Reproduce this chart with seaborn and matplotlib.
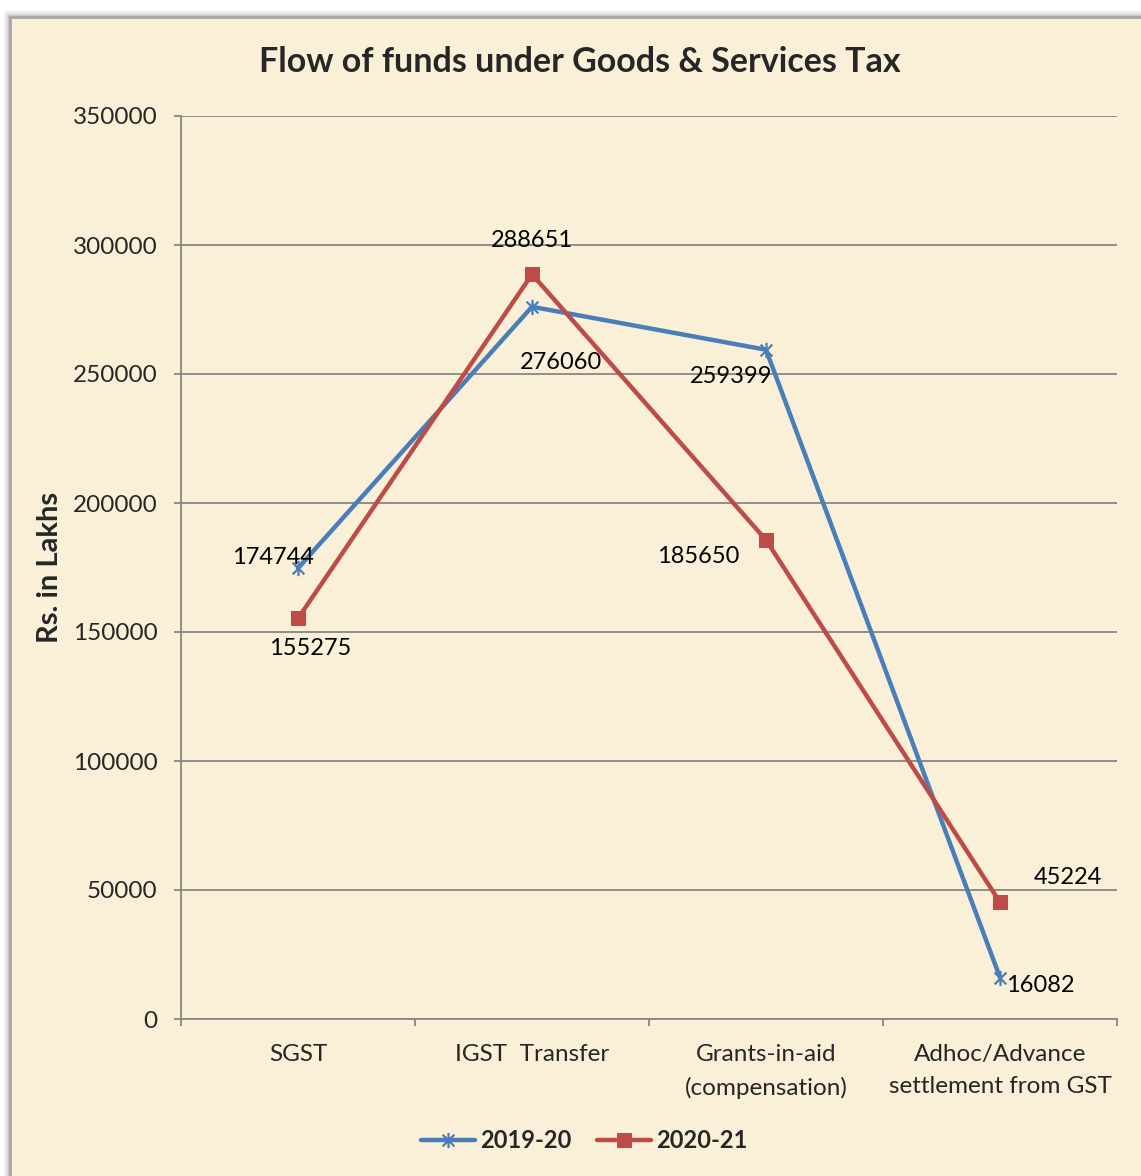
import numpy as np
import pandas as pd
import matplotlib.pyplot as plt
import matplotlib.patches as mpatches
from matplotlib.path import Path
import seaborn as sns

# datos del grafico
categorias = ['SGST', 'IGST  Transfer', 'Grants-in-aid\n(compensation)', 'Adhoc/Advance\nsettlement from GST']
anios = ['2019-20', '2020-21']
valores_2019 = [174744, 276060, 259399, 16082]
valores_2020 = [155275, 288651, 185650, 45224]
ticks_y = [0, 50000, 100000, 150000, 200000, 250000, 300000, 350000]

# desplazamiento de las etiquetas (en puntos)
offsets_2019 = [(-18, 8), (21, -40), (-25, -19), (29, -6)]
offsets_2020 = [(9, -22), (0, 24), (-49, -12), (49, 18)]

df = pd.DataFrame({
    'pos': list(range(len(categorias))) * 2,
    'valor': valores_2019 + valores_2020,
    'anio': [anios[0]] * 4 + [anios[1]] * 4,
})

sns.set_style('white')
plt.rcParams['font.family'] = ['Lato', 'DejaVu Sans']

azul = '#4A7EBB'
rojo = '#BE4B48'
gris = '#868686'
fondo = '#FAF0D8'
tam = 17.5

# marcador estrella estilo Excel (X con linea vertical)
estrella = Path([(-1, -1), (1, 1), (-1, 1), (1, -1), (0, -1.3), (0, 1.3)],
                [Path.MOVETO, Path.LINETO, Path.MOVETO, Path.LINETO, Path.MOVETO, Path.LINETO])

fig = plt.figure(figsize=(11.41, 11.76), dpi=100)
fig.patch.set_facecolor('white')

# marco tipo pergamino con sombra
for i, a in enumerate([0.06, 0.08, 0.10]):
    d = (3 - i) * 2 / 1141
    fig.patches.append(mpatches.Rectangle((10 / 1141 - d, -0.1), 1.2, 1 - 17 / 1176 + 0.1 + d * 1141 / 1176,
                                          transform=fig.transFigure, facecolor='black', alpha=a,
                                          edgecolor='none', zorder=-3))
fig.patches.append(mpatches.Rectangle((10 / 1141, -0.1), 1.2, 1 - 17 / 1176 + 0.1,
                                      transform=fig.transFigure, facecolor=fondo,
                                      edgecolor='#A6A6A6', linewidth=2, zorder=-2))

ax = fig.add_axes([181 / 1141, 1 - 1019 / 1176, (1117 - 181) / 1141, (1019 - 116) / 1176])
ax.set_facecolor('none')

d19 = df[df['anio'] == anios[0]]
d20 = df[df['anio'] == anios[1]]
sns.lineplot(data=d19, x='pos', y='valor', ax=ax, color=azul, linewidth=3.2,
             marker=estrella, markersize=11, markeredgewidth=1.6, markeredgecolor=azul,
             label=anios[0], zorder=3)
sns.lineplot(data=d20, x='pos', y='valor', ax=ax, color=rojo, linewidth=3.2,
             marker='s', markersize=10.5, markeredgecolor=rojo,
             label=anios[1], zorder=4)

# etiquetas de valores
for x, v, off in zip(range(4), valores_2019, offsets_2019):
    ax.annotate(str(v), (x, v), xytext=off, textcoords='offset points',
                ha='center', va='center', fontsize=tam - 0.5, color='black', zorder=6)
for x, v, off in zip(range(4), valores_2020, offsets_2020):
    ax.annotate(str(v), (x, v), xytext=off, textcoords='offset points',
                ha='center', va='center', fontsize=tam - 0.5, color='black', zorder=6)

ax.set_xlim(-0.5, 3.5)
ax.set_ylim(0, 350000)
ax.set_yticks(ticks_y)
ax.set_yticklabels([str(t) for t in ticks_y], fontsize=tam)
ax.yaxis.grid(True, color=gris, linewidth=1.3)
ax.set_axisbelow(True)

ax.set_xticks(np.arange(-0.5, 4, 1))
ax.set_xticklabels([])
ax.set_xticks(range(4), minor=True)
ax.set_xticklabels(categorias, minor=True, fontsize=tam, linespacing=1.65)
ax.tick_params(axis='x', which='major', direction='out', length=5, width=1.3, color=gris, bottom=True)
ax.tick_params(axis='x', which='minor', length=0, pad=18)
ax.tick_params(axis='y', direction='out', length=5, width=1.3, color=gris, left=True, pad=12)

for lado in ['top', 'right']:
    ax.spines[lado].set_visible(False)
for lado in ['left', 'bottom']:
    ax.spines[lado].set_color(gris)
    ax.spines[lado].set_linewidth(1.3)

ax.set_xlabel('')
ax.set_ylabel('')
fig.text(50 / 1141, 1 - 567 / 1176, 'Rs. in Lakhs', rotation=90, ha='center', va='center',
         fontsize=21, fontweight='bold')
fig.text(580 / 1141, 1 - 62 / 1176, 'Flow of funds under Goods & Services Tax',
         ha='center', va='center', fontsize=24.5, fontweight='bold')

handles, labels = ax.get_legend_handles_labels()
ax.get_legend().remove()
leg = fig.legend(handles, labels, loc='center', bbox_to_anchor=(584 / 1141, 1 - 1141 / 1176),
                 ncol=2, frameon=False, handlelength=2.3, handletextpad=0.2, columnspacing=1.1,
                 prop={'size': 17, 'weight': 'bold'})

fig.savefig('out.png', dpi=100)
